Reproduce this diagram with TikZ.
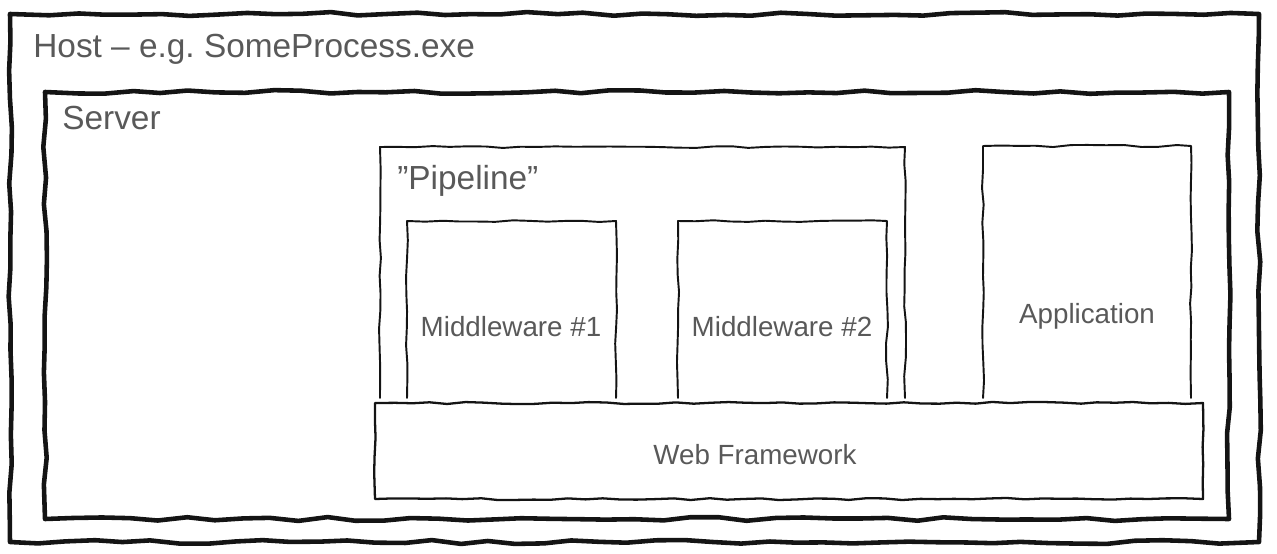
\documentclass[tikz,border=0pt]{standalone}
\usepackage{fontspec}
\setmainfont{Liberation Sans}
\usetikzlibrary{decorations.pathmorphing}
\definecolor{inkblack}{HTML}{141414}
\definecolor{labelgray}{HTML}{595959}

\begin{document}
\begin{tikzpicture}[x=0.02cm, y=-0.02cm,
						sketch/.style={draw=inkblack, line join=round, line cap=round, decorate, decoration={random steps, segment length=10pt, amplitude=0.6pt}},
						heavyline/.style={sketch, line width=2.6pt, decoration={random steps, segment length=16pt, amplitude=1.1pt}},
						lightline/.style={sketch, line width=1.1pt},
						title/.style={text=labelgray, font=\fontsize{19}{22}\selectfont, anchor=base west, inner sep=0pt},
						label/.style={text=labelgray, font=\fontsize{15.8}{19}\selectfont, inner sep=0pt}
					]
					\pgfmathsetseed{7}
					\useasboundingbox (0,0) rectangle (1277,554);

					% corners of the boxes
					\coordinate (host-nw) at (10,14);     \coordinate (host-se) at (1259,542);
					\coordinate (server-nw) at (45,92);   \coordinate (server-se) at (1229,519);
					\coordinate (pipe-sw) at (380,398);   \coordinate (pipe-ne) at (905,147);
					\coordinate (mwone-sw) at (407,398);  \coordinate (mwone-ne) at (616,221);
					\coordinate (mwtwo-sw) at (678,398);  \coordinate (mwtwo-ne) at (887,221);
					\coordinate (app-sw) at (983,398);    \coordinate (app-ne) at (1191,146);
					\coordinate (web-nw) at (375,403);    \coordinate (web-se) at (1203,499);

					\draw[heavyline] (host-nw) |- (host-se) |- cycle;
					\draw[heavyline] (server-nw) |- (server-se) |- cycle;
					\draw[lightline] (pipe-sw) |- (pipe-ne) -- (pipe-ne |- pipe-sw);
					\draw[lightline] (mwone-sw) |- (mwone-ne) -- (mwone-ne |- mwone-sw);
					\draw[lightline] (mwtwo-sw) |- (mwtwo-ne) -- (mwtwo-ne |- mwtwo-sw);
					\draw[lightline] (app-sw) |- (app-ne) -- (app-ne |- app-sw);
					\draw[lightline, line width=1.3pt] (web-nw) |- (web-se) |- cycle;

					\node[title] (host) at (33,58) {Host – e.g.\ SomeProcess.exe};
					\node[title] (server) at (62,130) {Server};
					\node[title] (pipeline) at (397,189) {”Pipeline”};
					\node[label] (mwone) at (511,327) {Middleware \#1};
					\node[label] (mwtwo) at (782,327) {Middleware \#2};
					\node[label] (app) at (1087,316) {Application};
					\node[label] (web) at (755,455) {Web Framework};
				\end{tikzpicture}
\end{document}
